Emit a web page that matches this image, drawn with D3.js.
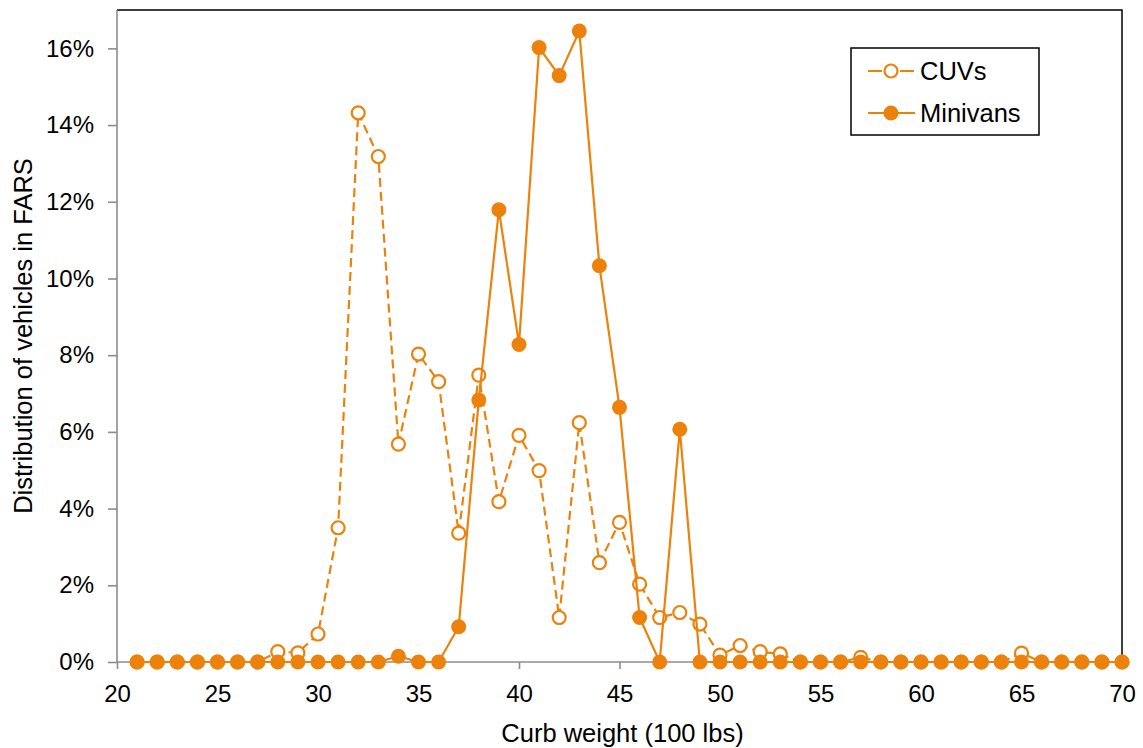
<!doctype html>
<html lang="en">
  <head>
    <meta charset="utf-8" />
    <title>Curb weight distribution</title>
    <script src="https://cdn.jsdelivr.net/npm/d3@7"></script>
    <style>
      body { margin: 0; background: #fff; }
      svg { display: block; font-family: "Liberation Sans", Arial, sans-serif; }
    </style>
  </head>
  <body>
    <svg id="main" width="1143" height="748"></svg>
    <script>
      // curb weight in 100 lbs, 21..70
      const weights = d3.range(21, 71);
      const cuvShare = [
        0, 0, 0, 0, 0, 0, 0, 0.27, 0.24, 0.73,
        3.50, 14.32, 13.18, 5.68, 8.03, 7.31, 3.36, 7.48, 4.18, 5.91,
        4.99, 1.16, 6.24, 2.59, 3.64, 2.03, 1.16, 1.29, 0.99, 0.18,
        0.43, 0.27, 0.21, 0, 0, 0, 0.12, 0, 0, 0,
        0, 0, 0, 0, 0.23, 0, 0, 0, 0, 0
      ];
      const minivanShare = [
        0, 0, 0, 0, 0, 0, 0, 0, 0, 0,
        0, 0, 0, 0.15, 0, 0, 0.92, 6.83, 11.79, 8.28,
        16.02, 15.29, 16.45, 10.33, 6.64, 1.16, 0, 6.07, 0, 0,
        0, 0, 0, 0, 0, 0, 0, 0, 0, 0,
        0, 0, 0, 0, 0, 0, 0, 0, 0, 0
      ];
      const xTicks = [20, 25, 30, 35, 40, 45, 50, 55, 60, 65, 70];
      const yTicks = [0, 2, 4, 6, 8, 10, 12, 14, 16];
      const seriesNames = ['CUVs', 'Minivans'];

      const orange = '#ec820b';
      const plotL = 117, plotR = 1122, plotT = 10, plotB = 662;

      const svg = d3.select('#main');
      const x = d3.scaleLinear().domain([20, 70]).range([plotL, plotR]);
      const y = d3.scaleLinear().domain([0, 17]).range([plotB, plotT]);

      // frame: top and right in black
      svg.append('path')
        .attr('d', `M${plotL},${plotT}H${plotR}V${plotB}`)
        .attr('fill', 'none').attr('stroke', '#000').attr('stroke-width', 1.5);

      const yAxis = svg.append('g')
        .attr('transform', `translate(${plotL},0)`)
        .call(d3.axisLeft(y).tickValues(yTicks).tickSize(9).tickPadding(14).tickFormat(d => d + '%'));
      const xAxis = svg.append('g')
        .attr('transform', `translate(0,${plotB})`)
        .call(d3.axisBottom(x).tickValues(xTicks).tickSize(7).tickPadding(16));
      [xAxis, yAxis].forEach(g => {
        g.select('.domain').attr('stroke', '#8c8c8c').attr('stroke-width', 1.6);
        g.selectAll('.tick line').attr('stroke', '#8c8c8c').attr('stroke-width', 1.6);
        g.selectAll('.tick text').attr('fill', '#000').style('font-size', '24px')
          .style('font-family', '"Liberation Sans", Arial, sans-serif');
      });
      yAxis.select('.domain').attr('d', `M0,${plotT}V${plotB}`);
      xAxis.select('.domain').attr('d', `M${plotL},0H${plotR}`);

      svg.append('text')
        .attr('x', (plotL + plotR) / 2 + 3).attr('y', 742)
        .attr('text-anchor', 'middle').style('font-size', '25.5px')
        .text('Curb weight (100 lbs)');
      svg.append('text')
        .attr('transform', `translate(32,336) rotate(-90)`)
        .attr('text-anchor', 'middle').style('font-size', '25.5px')
        .text('Distribution of vehicles in FARS');

      const cuv = weights.map((w, i) => ({ w, v: cuvShare[i] }));
      const mini = weights.map((w, i) => ({ w, v: minivanShare[i] }));
      const line = d3.line().x(d => x(d.w)).y(d => y(d.v));

      svg.append('path').datum(cuv)
        .attr('d', line).attr('fill', 'none')
        .attr('stroke', orange).attr('stroke-width', 2.2).attr('stroke-dasharray', '9,5');
      svg.append('g').selectAll('circle').data(cuv).join('circle')
        .attr('cx', d => x(d.w)).attr('cy', d => y(d.v)).attr('r', 6.5)
        .attr('fill', '#fff').attr('stroke', orange).attr('stroke-width', 2.2);

      svg.append('path').datum(mini)
        .attr('d', line).attr('fill', 'none')
        .attr('stroke', orange).attr('stroke-width', 2.2);
      svg.append('g').selectAll('circle').data(mini).join('circle')
        .attr('cx', d => x(d.w)).attr('cy', d => y(d.v)).attr('r', 7.5)
        .attr('fill', orange);

      // legend
      const legend = svg.append('g');
      legend.append('rect')
        .attr('x', 851).attr('y', 48).attr('width', 188).attr('height', 87)
        .attr('fill', '#fff').attr('stroke', '#000').attr('stroke-width', 1.5);
      seriesNames.forEach((name, i) => {
        const ly = 71 + i * 42;
        legend.append('line')
          .attr('x1', 868).attr('x2', 915).attr('y1', ly).attr('y2', ly)
          .attr('stroke', orange).attr('stroke-width', 2.2)
          .attr('stroke-dasharray', i === 0 ? '14,5,8,5' : null);
        legend.append('circle')
          .attr('cx', 891).attr('cy', ly).attr('r', i === 0 ? 6.5 : 7.5)
          .attr('fill', i === 0 ? '#fff' : orange)
          .attr('stroke', i === 0 ? orange : 'none').attr('stroke-width', 2.2);
        legend.append('text')
          .attr('x', 920).attr('y', ly).attr('dy', '0.35em')
          .style('font-size', '25.5px').text(name);
      });
    </script>
  </body>
</html>
